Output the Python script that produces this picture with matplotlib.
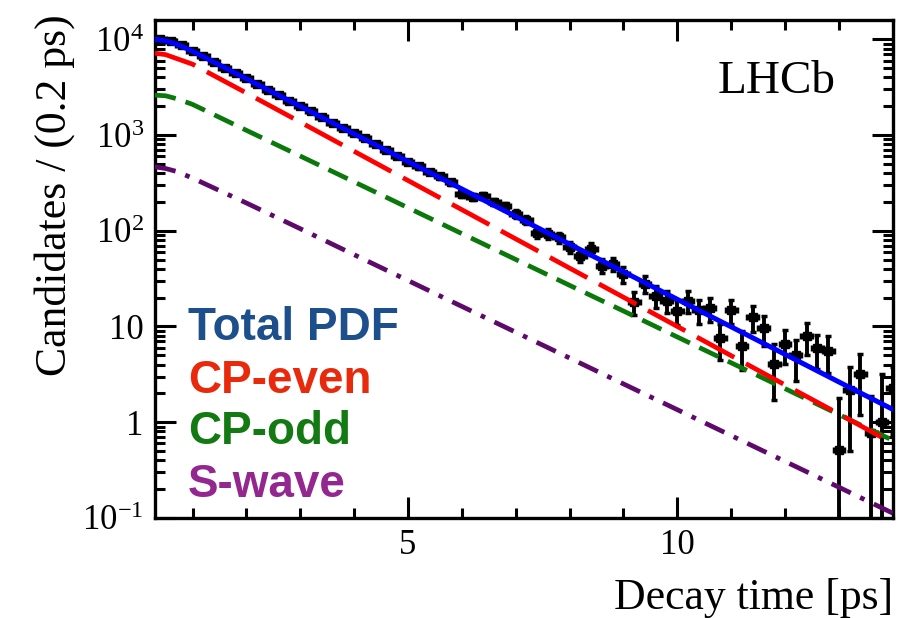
import numpy as np
import matplotlib.pyplot as plt
from matplotlib.ticker import FixedLocator, FixedFormatter, LogLocator, MultipleLocator, NullFormatter

plt.rcParams['font.family'] = 'Liberation Serif'
plt.rcParams['mathtext.fontset'] = 'custom'
plt.rcParams['mathtext.rm'] = 'Liberation Serif'
plt.rcParams['mathtext.it'] = 'Liberation Serif:italic'

# binned data, 0.2 ps bins
t_data = np.round(np.arange(0.4, 14.01, 0.2), 1)
counts = [10100, 9500, 8700, 7600, 6700, 5800, 5050, 4450, 3900, 3400,
          2950, 2600, 2280, 2000, 1780, 1560, 1350, 1190, 1060, 920,
          810, 690, 600, 520, 470, 410, 370, 320, 240, 225,
          230, 200, 180, 150, 130, 95, 93, 85, 68, 55,
          65, 43, 45, 35, 18, 28, 21, 18.6, 14.5, 18.6,
          14.8, 15.5, 7.5, 14.8, 6.2, 12.6, 9.6, 4.1, 6.6, 5.0,
          7.9, 5.9, 5.6, 0.51, 2.15, 3.2, 0.77, 1.0, 2.26]
errors = [110, 107, 103, 96, 90, 84, 78, 73, 69, 64,
          60, 56, 53, 49, 46, 43, 40, 38, 36, 33,
          31, 29, 27, 25, 24, 22, 21, 20, 17, 17,
          17, 16, 15, 13.5, 12.5, 10.7, 10.6, 10.1, 9.1, 8.2,
          8.9, 7.2, 7.4, 6.5, 4.7, 5.8, 5.5, 4.7, 4.2, 4.7,
          4.2, 4.3, 3.0, 4.2, 2.7, 3.8, 3.3, 2.4, 2.5, 2.3,
          2.9, 2.3, 2.3, 1.27, 1.65, 2.0, 1.1, 2.2, 1.5]

# fit components
t_curve = [0.3, 0.5, 0.7, 1.0, 1.5, 2, 3, 4, 5, 6, 7, 8, 9, 10, 11, 12, 13, 14]
total_pdf = [10000, 9660, 8910, 7520, 5400, 3870, 1995, 1028, 530, 273,
             141, 72.4, 37.3, 19.2, 9.91, 5.11, 2.63, 1.36]
cp_even = [7160, 6920, 6310, 5500, 3890, 2750, 1365, 676, 335, 166,
           82.2, 40.7, 20.2, 10.0, 4.95, 2.45, 1.22, 0.60]
cp_odd = [2610, 2570, 2400, 2090, 1530, 1120, 603, 324, 174, 93.3,
          50.1, 26.9, 14.5, 7.76, 4.17, 2.24, 1.20, 0.646]
s_wave = [465, 447, 417, 355, 263, 195, 105, 56.2, 30.2, 16.2,
          8.71, 4.68, 2.51, 1.35, 0.724, 0.389, 0.209, 0.112]

legend_labels = ['Total PDF', 'CP-even', 'CP-odd', 'S-wave']
legend_colors = ['#1d4f8c', '#e8290c', '#137a13', '#93278f']
y_ticks = [0.1, 1, 10, 100, 1000, 10000]
y_ticklabels = ['$10^{-1}$', '1', '10', '$10^{2}$', '$10^{3}$', '$10^{4}$']

fig = plt.figure(figsize=(9, 6.18), dpi=100)
ax = fig.add_axes([0.172, 0.162, 0.820, 0.806])

counts = np.array(counts)
errors = np.array(errors)
lower = np.minimum(errors, counts - 1e-3)
ax.errorbar(t_data, counts, yerr=[lower, errors], xerr=0.1, fmt='s', color='black',
            markersize=6, elinewidth=2.8, capsize=2.5, capthick=2.5, zorder=2)

ax.plot(t_curve, s_wave, color='#5e0a6a', lw=3.4, dashes=(4.5, 2.2, 1, 2.2), zorder=3)
ax.plot(t_curve, cp_odd, color='#0a780a', lw=3.4, dashes=(4.5, 2.2), zorder=3)
ax.plot(t_curve, cp_even, color='#ff0000', lw=3.4, dashes=(9, 2.8), zorder=3)
ax.plot(t_curve, total_pdf, color='#0000ff', lw=3.6, zorder=4)

ax.set_yscale('log')
ax.set_xlim(0.3, 14)
ax.set_ylim(0.1, 16000)

ax.yaxis.set_major_locator(FixedLocator(y_ticks))
ax.yaxis.set_major_formatter(FixedFormatter(y_ticklabels))
ax.yaxis.set_minor_locator(LogLocator(base=10, subs=np.arange(2, 10)))
ax.yaxis.set_minor_formatter(NullFormatter())
ax.xaxis.set_major_locator(FixedLocator([5, 10]))
ax.xaxis.set_minor_locator(MultipleLocator(1))

for s in ax.spines.values():
    s.set_linewidth(2.4)
ax.tick_params(which='both', direction='in', top=True, right=True, width=2.2, labelsize=25)
ax.tick_params(which='major', length=15)
ax.tick_params(which='minor', length=7.5)
ax.tick_params(axis='x', pad=8)
ax.tick_params(axis='y', pad=8)

fig.text(893 / 900, 1 - 598 / 618, 'Decay time [ps]', ha='right', va='center', fontsize=31.5)
fig.text(55 / 900, 1 - 14 / 618, 'Candidates / (0.2 ps)', ha='center', va='top',
         rotation=90, fontsize=31.5)

ax.text(0.763, 0.876, 'LHCb', transform=ax.transAxes, ha='left', va='center', fontsize=34)

leg_y = [0.3815, 0.275, 0.1727, 0.066]
for lab, col, yy in zip(legend_labels, legend_colors, leg_y):
    ax.text(0.045, yy, lab, transform=ax.transAxes, ha='left', va='center',
            fontsize=33, fontweight='bold', color=col, family='Liberation Sans')

fig.savefig('out.png', dpi=100)
